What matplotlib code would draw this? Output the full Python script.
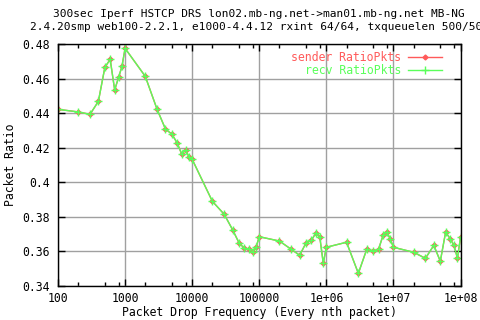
import numpy as np
import matplotlib
matplotlib.use("Agg")
import matplotlib.pyplot as plt
from matplotlib.ticker import FixedLocator, NullFormatter

# drop frequency (every nth packet) and packet ratio
freq = [100, 200, 300, 400, 500, 600, 700, 800, 900,
        1000, 2000, 3000, 4000, 5000, 6000, 7000, 8000, 9000,
        10000, 20000, 30000, 40000, 50000, 60000, 70000, 80000, 90000,
        1e5, 2e5, 3e5, 4e5, 5e5, 6e5, 7e5, 8e5, 9e5,
        1e6, 2e6, 3e6, 4e6, 5e6, 6e6, 7e6, 8e6, 9e6,
        1e7, 2e7, 3e7, 4e7, 5e7, 6e7, 7e7, 8e7, 9e7, 1e8]
sender = [0.4422, 0.4407, 0.4393, 0.4468, 0.4665, 0.4711, 0.4534, 0.4607, 0.4671,
          0.4775, 0.4613, 0.4422, 0.4308, 0.4278, 0.4226, 0.4162, 0.4187, 0.4145,
          0.4133, 0.3890, 0.3815, 0.3726, 0.3649, 0.3618, 0.3614, 0.3595, 0.3627,
          0.3685, 0.3660, 0.3612, 0.3578, 0.3650, 0.3664, 0.3708, 0.3682, 0.3531,
          0.3624, 0.3653, 0.3473, 0.3612, 0.3602, 0.3612, 0.3693, 0.3712, 0.3670,
          0.3624, 0.3595, 0.3560, 0.3635, 0.3543, 0.3712, 0.3674, 0.3635, 0.3560, 0.3682]
recv = list(sender)

title1 = "300sec Iperf HSTCP DRS lon02.mb-ng.net->man01.mb-ng.net MB-NG"
title2 = "2.4.20smp web100-2.2.1, e1000-4.4.12 rxint 64/64, txqueuelen 500/500"

plt.rcParams['font.family'] = ['DejaVu Sans Mono']
plt.rcParams['font.size'] = 8.3

red = '#ff5a5a'
green = '#5aff5a'

fig = plt.figure(figsize=(4.8, 3.2), dpi=100)
ax = fig.add_axes([0.1208, 0.1063, 0.9594 - 0.1208, 0.8625 - 0.1063])

ax.plot(freq, sender, color=red, lw=1, marker='D', ms=2.5, mfc=red, mec=red,
        label='sender RatioPkts')
ax.plot(freq, recv, color=green, lw=1, marker='+', ms=6, mew=1,
        label='recv RatioPkts')

ax.set_xscale('log')
ax.set_xlim(100, 1e8)
ax.set_ylim(0.34, 0.48)

xt = [100, 1000, 10000, 100000, 1e6, 1e7, 1e8]
ax.set_xticks(xt)
ax.set_xticklabels(['100', '1000', '10000', '100000', '1e+06', '1e+07', '1e+08'])
minors = [m * 10 ** e for e in range(2, 8) for m in (2, 5, 8)]
ax.xaxis.set_minor_locator(FixedLocator(minors))
ax.xaxis.set_minor_formatter(NullFormatter())

yt = [0.34, 0.36, 0.38, 0.40, 0.42, 0.44, 0.46, 0.48]
ax.set_yticks(yt)
ax.set_yticklabels(['0.34', '0.36', '0.38', '0.4', '0.42', '0.44', '0.46', '0.48'])

ax.tick_params(which='both', direction='in', top=True, right=True, width=1)
ax.tick_params(axis='x', pad=4)
ax.tick_params(axis='y', pad=6)
ax.tick_params(which='major', length=5)
ax.tick_params(which='minor', length=3)
ax.grid(True, which='major', color='#a0a0a0', lw=1)
ax.set_axisbelow(True)
for s in ax.spines.values():
    s.set_linewidth(1)

ax.set_xlabel('Packet Drop Frequency (Every nth packet)', labelpad=1)
ax.set_ylabel('Packet Ratio', labelpad=4)

cx = (0.1208 + 0.9594) / 2
fig.text(cx, 1 - 14 / 320, title1, ha='center', va='center', fontsize=8.0)
fig.text(cx, 1 - 27 / 320, title2, ha='center', va='center', fontsize=8.0)

leg = ax.legend(loc='upper right', frameon=False, markerfirst=False,
                handlelength=2.9, bbox_to_anchor=(0.97, 1.0),
                borderaxespad=0.2, labelspacing=0.0, handletextpad=0.6)
for t, c in zip(leg.get_texts(), [red, green]):
    t.set_color(c)

fig.savefig('out.png', dpi=100)
